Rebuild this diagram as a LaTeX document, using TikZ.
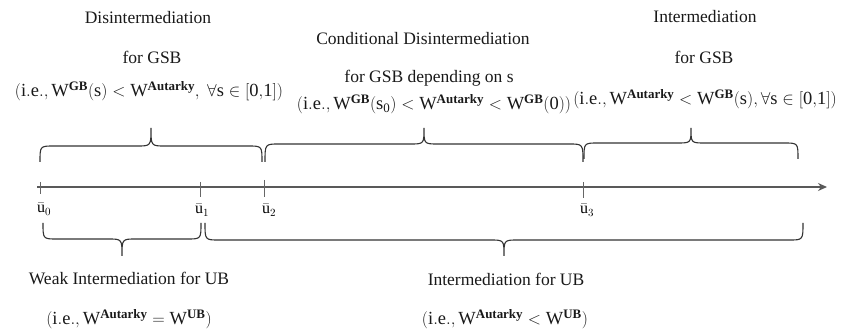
\documentclass[tikz,border=0pt]{standalone}
\usepackage{fontspec}
\setmainfont{Liberation Serif}
\setmathrm{Liberation Serif}
\setboldmathrm{Liberation Serif}
\usetikzlibrary{arrows.meta}
\newcommand\mybrace[6]{% x1 x2 yend yflat ytip radius
  \pgfmathsetmacro\xm{(#1+#2)/2}
  \draw[bracestyle] (#1,#3) .. controls (#1,#4) .. (#1+#6,#4) -- (\xm-#6,#4)
    .. controls (\xm,#4) .. (\xm,#5) .. controls (\xm,#4) .. (\xm+#6,#4)
    -- (#2-#6,#4) .. controls (#2,#4) .. (#2,#3);}
\newcommand\sps[1]{^{\mathbf{#1}}}
\tikzset{
  bracestyle/.style={draw=black!80, line width=1.1pt},
  lbl/.style={anchor=base, inner sep=0pt, font=\fontsize{17.5}{20}\selectfont, text=black!90},
  mlbl/.style={anchor=base, inner sep=0pt, font=\fontsize{18.5}{20}\selectfont, text=black!90},
  tick/.style={draw=black!60, line width=0.8pt},
  tlbl/.style={anchor=north, inner sep=0pt, font=\fontsize{16}{18}\selectfont},
}
\begin{document}
\begin{tikzpicture}[x=1pt,y=-1pt]
\useasboundingbox (0,0) rectangle (847,331);
% axis
\coordinate (a0) at (37,187);
\coordinate (a1) at (827,187);
\draw[draw=black!65, line width=1.4pt, -{Stealth[length=9pt,width=8pt]}] (a0) -- (a1);
% ticks
\draw[tick] (40,182) -- (40,194);
\draw[tick] (200,182) -- (200,197);
\draw[tick] (264,180) -- (264,197);
\draw[tick] (583,182) -- (583,198);
\node[tlbl] (u0) at (44,203) {$\bar{\mathrm{u}}_0$};
\node[tlbl] (u1) at (202,204) {$\bar{\mathrm{u}}_1$};
\node[tlbl] (u2) at (269,204) {$\bar{\mathrm{u}}_2$};
\node[tlbl] (u3) at (587,204) {$\bar{\mathrm{u}}_3$};
% top braces
\mybrace{40}{262}{162}{146}{128}{14}
\mybrace{265}{583}{162}{144}{128}{14}
\mybrace{584}{798}{159}{143}{128}{14}
% bottom braces
\mybrace{43}{201}{223}{239}{256}{14}
\mybrace{205}{803}{223}{240}{256}{14}
% top texts
\node[lbl] (t1a) at (148,24) {Disintermediation};
\node[lbl] (t1b) at (152,64) {for GSB};
\node[mlbl] (t1c) at (149,97) {$\mathrm{(i.e.,W\sps{GB}(s)<W\sps{Autarky},\ \forall s\in[0{,}1])}$};
\node[lbl] (t2a) at (423,45) {Conditional Disintermediation};
\node[lbl] (t2b) at (429,83) {for GSB depending on s};
\node[mlbl] (t2c) at (434,110) {$\mathrm{(i.e.,W\sps{GB}(s_0)<W\sps{Autarky}<W\sps{GB}(0))}$};
\node[lbl] (t3a) at (705,23) {Intermediation};
\node[lbl] (t3b) at (704,64) {for GSB};
\node[mlbl] (t3c) at (705,105) {$\mathrm{(i.e.,W\sps{Autarky}<W\sps{GB}(s),\forall s\in[0{,}1])}$};
% bottom texts
\node[lbl] (b1a) at (129,285) {Weak Intermediation for UB};
\node[mlbl] (b1b) at (129,325) {$\mathrm{(i.e.,W\sps{Autarky}=W\sps{UB})}$};
\node[lbl] (b2a) at (506,286) {Intermediation for UB};
\node[mlbl] (b2b) at (505,325) {$\mathrm{(i.e.,W\sps{Autarky}<W\sps{UB})}$};
\end{tikzpicture}
\end{document}
